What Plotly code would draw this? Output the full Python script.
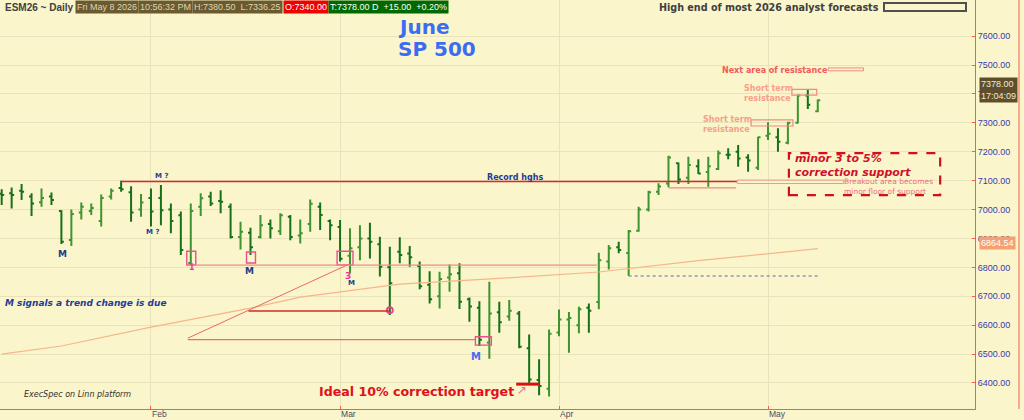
import pandas as pd
import plotly.graph_objects as go

# trading days shown (CME closed on MLK day, Presidents day, Good Friday)
holidays = ["2026-01-19", "2026-02-16", "2026-04-03"]
days = pd.bdate_range("2026-01-09", "2026-05-08")
dates = [d.strftime("%Y-%m-%d") for d in days if d.strftime("%Y-%m-%d") not in holidays]

opens = [7055, 7056, 7065, 7045, 7025, 7045, 6995, 6895, 6990, 6995,
         6960, 7045, 7075, 7060, 7000, 7040, 7040, 7000, 6980, 6815,
         7010, 7045, 7030, 7010, 6905, 6920, 6905, 6950, 6925, 6975,
         6910, 6950, 7010, 6960, 6940, 6840, 6870, 6900, 6880, 6800,
         6854, 6848, 6805, 6740, 6700, 6765, 6780, 6690, 6660, 6540,
         6645, 6630, 6640, 6520, 6410, 6380, 6575, 6620, 6600, 6660,
         6680, 6820, 6870, 6850, 6927, 7000, 7062, 7090, 7160, 7110,
         7150, 7130, 7140, 7190, 7200, 7180, 7145, 7255, 7250, 7231,
         7300, 7395, 7340]
highs = [7070, 7076, 7088, 7056, 7073, 7059, 6998, 7000, 7024, 7021,
         7052, 7073, 7100, 7081, 7054, 7073, 7085, 7021, 6993, 7021,
         7056, 7062, 7067, 7021, 6958, 6937, 6981, 6966, 6987, 6981,
         6966, 7035, 7024, 6966, 6964, 6935, 6946, 6954, 6906, 6871,
         6904, 6874, 6820, 6787, 6785, 6810, 6814, 6696, 6683, 6750,
         6681, 6687, 6649, 6568, 6482, 6585, 6654, 6646, 6664, 6675,
         6851, 6877, 6889, 6929, 7010, 7065, 7091, 7186, 7163, 7183,
         7174, 7183, 7204, 7212, 7223, 7191, 7252, 7302, 7281, 7304,
         7398, 7414, 7380.5]
lows = [7016, 7004, 7033, 6978, 7010, 7016, 6881, 6874, 6966, 6981,
        6941, 7035, 7062, 6958, 6975, 6941, 6946, 6918, 6843, 6808,
        6978, 7012, 6987, 6900, 6862, 6843, 6900, 6900, 6912, 6894,
        6883, 6923, 6929, 6894, 6820, 6779, 6825, 6831, 6768, 6635,
        6814, 6802, 6724, 6675, 6658, 6716, 6656, 6612, 6528, 6484,
        6574, 6615, 6520, 6396, 6358, 6353, 6562, 6505, 6572, 6574,
        6655, 6793, 6849, 6770, 6923, 6993, 7050, 7077, 7088, 7088,
        7123, 7079, 7137, 7174, 7148, 7131, 7137, 7241, 7200, 7226,
        7298, 7348, 7336.25]
closes = [7050, 7050, 7062, 7021, 7040, 7033, 6889, 6985, 7010, 7005,
          7040, 7065, 7070, 6990, 7024, 6993, 6998, 6960, 6860, 6995,
          7039, 7021, 7027, 6905, 6923, 6870, 6946, 6935, 6980, 6905,
          6918, 7020, 6981, 6946, 6830, 6866, 6900, 6889, 6802, 6745,
          6843, 6835, 6735, 6690, 6760, 6776, 6681, 6665, 6550, 6640,
          6610, 6650, 6525, 6412, 6390, 6570, 6620, 6625, 6655, 6650,
          6825, 6866, 6860, 6925, 7000, 7060, 7080, 7180, 7104, 7154,
          7125, 7150, 7195, 7190, 7177, 7170, 7250, 7262, 7235, 7300,
          7395, 7363, 7378]

# long moving average, read at a few dates
ma_dates = ["2026-01-09", "2026-01-20", "2026-02-02", "2026-02-17", "2026-02-24",
            "2026-03-10", "2026-03-24", "2026-04-08", "2026-04-22", "2026-05-08"]
ma_values = [6500, 6528, 6593, 6659, 6697, 6742, 6762, 6784, 6823, 6864.54]

month_ticks = ["2026-02-02", "2026-03-02", "2026-04-01", "2026-05-01"]
month_labels = ["Feb", "Mar", "Apr", "May"]
price_ticks = list(range(6400, 7700, 100))

BG = "#faf5cb"
GRID = "#e9e3bb"
AXIS = "#f0604a"
W, H = 975, 409   # plot area in pixels


def px(x):
    return x / W


def py(y):
    return 1 - y / H


fig = go.Figure()

fig.add_trace(go.Ohlc(
    x=dates, open=opens, high=highs, low=lows, close=closes,
    increasing=dict(line=dict(color="#3f9432", width=2)),
    decreasing=dict(line=dict(color="#17711a", width=2)),
    tickwidth=0.25, showlegend=False, hoverinfo="skip"
))

fig.add_trace(go.Scatter(
    x=ma_dates, y=ma_values, mode="lines",
    line=dict(color="#f7b58a", width=1.2), showlegend=False, hoverinfo="skip"
))

shapes = []


def hline(y, x0, x1, color, width=1.2, dash="solid"):
    shapes.append(dict(type="line", xref="x", yref="y", x0=x0, x1=x1, y0=y, y1=y,
                       line=dict(color=color, width=width, dash=dash)))


def box(x0, x1, y0, y1, color, width=1.2, dash="solid"):
    shapes.append(dict(type="rect", xref="x", yref="y", x0=x0, x1=x1, y0=y0, y1=y1,
                       line=dict(color=color, width=width, dash=dash)))


# record highs and breakout zone
hline(7097, 12, 73.9, "#e0262a", 1.6)
hline(7075, 67, 73.8, "#f08a80", 1.4)
box(73.9, 84.6, 7090, 7102, "#f2958a", 1)
# resistance boxes
box(83.05, 86.6, 7480, 7490, "#f08a80", 1)
box(75.3, 79.5, 7289, 7310, "#f08a80", 1.2)
box(79.4, 81.9, 7396, 7416, "#f08a80", 1.2)
# support box
box(79.1, 94.3, 7050, 7195, "#d0101e", 2.2, "dash")
# M signal boxes
for x0, x1, y0, y1 in [(18.6, 19.5, 6808, 6856), (24.6, 25.5, 6815, 6853),
                       (33.7, 35.3, 6808, 6856), (47.6, 49.2, 6531, 6560)]:
    box(x0, x1, y0, y1, "#e8508f", 1.4)
shapes.append(dict(type="circle", xref="x", yref="y", x0=38.7, x1=39.3, y0=6642, y1=6662,
                   line=dict(color="#e8408a", width=1.8)))
# pattern lines
hline(6808, 18.6, 59.8, "#ec8c84", 1.2)
shapes.append(dict(type="line", xref="x", yref="y", x0=18.7, y0=6555, x1=34.7, y1=6808,
                   line=dict(color="#e86a66", width=1)))
hline(6649, 24.8, 39.0, "#d42a2a", 1.5)
hline(6550, 18.7, 47.6, "#e8706c", 1.2)
hline(6396, 51.7, 54.0, "#dd1010", 3)
hline(6770, 63, 82.3, "#8a9ab8", 1.5, "dot")
# forecast box in the header
shapes.append(dict(type="rect", xref="paper", yref="paper", x0=px(884), x1=px(966),
                   y0=py(11), y1=py(3), line=dict(color="#505050", width=2)))
# frame at the far right
shapes.append(dict(type="line", xref="paper", yref="paper", x0=px(1019), x1=px(1019),
                   y0=0, y1=1, line=dict(color=AXIS, width=1)))

annotations = []


def label(text, x, y, size, color, anchor="left", family="DejaVu Sans", bg=None):
    annotations.append(dict(text=text, xref="paper", yref="paper", x=px(x), y=py(y),
                            xanchor=anchor, yanchor="middle", showarrow=False,
                            align="left" if anchor == "left" else "center",
                            font=dict(size=size, color=color, family=family),
                            bgcolor=bg, borderpad=1))


# header strip
label("<b>ESM26 ~ Daily</b>", 3, 7, 10, "#404040", family="Liberation Sans")
hdr = [("Fri May 8 2026", 75, "#6b5a30", "#ddd5b0"),
       ("10:56:32 PM", 138, "#6b5a30", "#ddd5b0"),
       ("H:7380.50  L:7336.25", 192, "#6b5a30", "#ddd5b0"),
       ("O:7340.00", 283, "#f00000", "#ffffff"),
       ("T:7378.00 D  +15.00  +0.20%", 328, "#006a00", "#ffffff")]
for t, x, bg, fg in hdr:
    label(t, x, 7, 9, fg, family="Liberation Sans", bg=bg)

label("<b>High end of most 2026 analyst forecasts</b>", 881, 7, 9.6, "#404040",
      anchor="right")
label("<b>June</b>", 396, 27, 20, "#3d6cf2")
label("<b>SP 500</b>", 396, 49, 20, "#3d6cf2")

label("<b>Next area of resistance</b>", 720, 70, 8, "#f05a5a")
label("<b>Short term<br>resistance</b>", 742, 93, 8, "#f5a08a")
label("<b>Short term<br>resistance</b>", 701, 124, 8, "#f5a08a")
label("<b><i>minor 3 to 5%<br>correction support</i></b>", 793, 165, 11, "#d0102a")
label("Breakout area becomes<br>minor floor of support", 842, 186, 7.5, "#f06a80")

label("<b>Record hghs</b>", 515, 177, 8, "#1e3c9a", anchor="center")
label("<b>M ?</b>", 161, 176, 7, "#1e3c9a", anchor="center")
label("<b>M ?</b>", 152, 232, 7, "#1e3c9a", anchor="center")
label("<b>M</b>", 62, 254, 9, "#1e3c8a", anchor="center")
label("<b>M</b>", 249, 271, 9, "#1e3c8a", anchor="center")
label("<b>M</b>", 351, 283, 7, "#1e3c8a", anchor="center")
label("<b>1</b>", 192, 267, 8, "#e83aa0", anchor="center")
label("<b>3</b>", 348, 276, 9, "#e83aa0", anchor="center")
label("<b>M</b>", 476, 356, 10, "#4a6af0", anchor="center")

label("<b><i>M signals a trend change is due</i></b>", 3, 303, 9, "#1e3c9a")
label("<i>ExecSpec on Linn platform</i>", 22, 394, 8, "#303030")
label("<b>Ideal 10% correction target</b>", 317, 391, 12.6, "#e0101a")
label("↗", 522, 390, 12, "#f07090", anchor="center")

# price flags on the right axis
label("7378.00<br>17:04:09", 979, 90, 9, "#f0ead0", family="Liberation Sans", bg="#5e4e2c")
label("6864.54", 979, 243, 9, "#ffffff", family="Liberation Sans", bg="#f5a070")

fig.update_layout(
    width=1024, height=420,
    margin=dict(l=0, r=49, t=0, b=11),
    paper_bgcolor=BG, plot_bgcolor=BG,
    showlegend=False,
    shapes=shapes, annotations=annotations,
    xaxis=dict(
        type="category", range=[-0.17, 97.8],
        rangeslider=dict(visible=False),
        tickmode="array", tickvals=month_ticks, ticktext=month_labels,
        ticklabelposition="outside right", ticklabelstandoff=-3,
        tickfont=dict(size=8.5, color="#4a4a66", family="Liberation Sans"),
        ticks="inside", ticklen=3, tickcolor=AXIS,
        showgrid=True, gridcolor=GRID, gridwidth=1,
        showline=True, linecolor=AXIS, linewidth=1,
        zeroline=False, fixedrange=True, automargin=False
    ),
    yaxis=dict(
        side="right", range=[6310, 7725],
        tickmode="array", tickvals=price_ticks, tickformat=".2f",
        tickfont=dict(size=9, color="#3a3ab0", family="Liberation Sans"),
        ticks="inside", ticklen=3, tickcolor=AXIS,
        showgrid=True, gridcolor=GRID, gridwidth=1,
        showline=True, linecolor=AXIS, linewidth=1,
        zeroline=False, fixedrange=True, automargin=False
    ),
)

fig.write_html("out.html", config=dict(displayModeBar=False),
               post_script="document.body.style.margin='0';")
